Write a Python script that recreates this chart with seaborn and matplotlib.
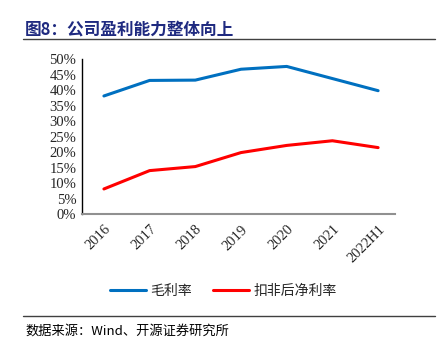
import matplotlib
matplotlib.use("Agg")
import matplotlib.pyplot as plt
import matplotlib.ticker as ticker
from matplotlib.lines import Line2D
import pandas as pd
import seaborn as sns

years = ["2016", "2017", "2018", "2019", "2020", "2021", "2022H1"]
gross_margin = [38.1, 43.1, 43.2, 46.7, 47.6, 43.7, 39.8]
net_margin = [8.2, 14.1, 15.4, 19.9, 22.2, 23.7, 21.5]
series_names = ["毛利率", "扣非后净利率"]
colors = ["#0070C0", "#FF0000"]

df = pd.DataFrame({
    "year": years * 2,
    "value": gross_margin + net_margin,
    "series": [series_names[0]] * len(years) + [series_names[1]] * len(years),
})

sns.set_style("white")
cjk = ["Noto Sans CJK SC", "DejaVu Sans"]
serif = ["Liberation Serif", "DejaVu Serif"]

fig = plt.figure(figsize=(4.47, 3.51), dpi=100)
ax = fig.add_axes([0.1834, 0.389, 0.7003, 0.443])

sns.lineplot(data=df, x="year", y="value", hue="series", palette=colors,
             linewidth=2.2, sort=False, legend=False, ax=ax)

ax.set_ylim(0, 50)
ax.set_xlim(-0.48, 6.37)
ax.yaxis.set_major_locator(ticker.MultipleLocator(5))
ax.yaxis.set_major_formatter(ticker.FormatStrFormatter("%d%%"))
ax.set_xlabel("")
ax.set_ylabel("")

ax.set_xticks(range(len(years)))
ax.set_xticklabels(years, rotation=45, ha="right", rotation_mode="anchor",
                   family=serif, fontsize=10.5)
ax.xaxis.set_minor_locator(ticker.FixedLocator([i + 0.5 for i in range(6)]))
ax.tick_params(axis="x", which="major", length=0, pad=6)
ax.tick_params(axis="x", which="minor", length=4, direction="in", color="#404040", width=1)
ax.tick_params(axis="y", length=4, direction="in", color="#808080", width=1, pad=4)
for lab in ax.get_yticklabels():
    lab.set_family(serif)
    lab.set_fontsize(10.5)

for s in ["top", "right"]:
    ax.spines[s].set_visible(False)
ax.spines["left"].set_color("#000000")
ax.spines["left"].set_linewidth(1)
ax.spines["bottom"].set_color("#909090")
ax.spines["bottom"].set_linewidth(1.5)

# title and rules
fig.text(25 / 447, 1 - 30 / 351, "图8：公司盈利能力整体向上", family=cjk,
         fontsize=12, fontweight="bold", color="#1F2A80", va="center", ha="left")
fig.add_artist(Line2D([23 / 447, 435 / 447], [1 - 39 / 351] * 2, color="#404040", lw=1))
fig.add_artist(Line2D([23 / 447, 435 / 447], [1 - 316 / 351] * 2, color="#404040", lw=1))
fig.text(25 / 447, 1 - 331 / 351, "数据来源：Wind、开源证券研究所", family=cjk,
         fontsize=9.5, color="#000000", va="center", ha="left")

handles = [Line2D([], [], color=c, lw=2.2) for c in colors]
fig.legend(handles, series_names, loc="center", bbox_to_anchor=(0.5, 1 - 291 / 351),
           ncol=2, frameon=False, prop={"family": cjk, "size": 10},
           handlelength=2.6, handletextpad=0.3, columnspacing=1.5)

fig.savefig("out.png", dpi=100, facecolor="white")
